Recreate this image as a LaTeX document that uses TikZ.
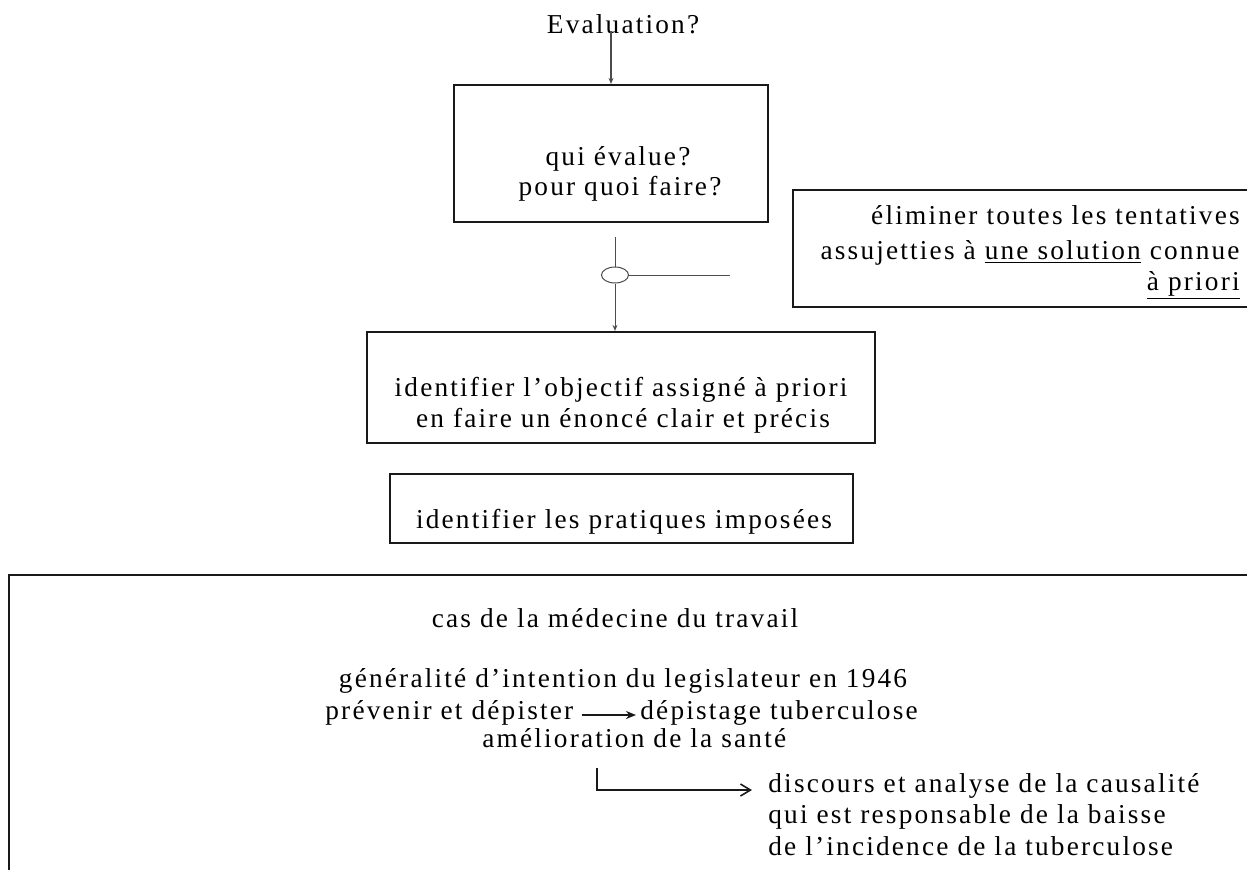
\documentclass[tikz,border=0pt]{standalone}
\usepackage{fontspec}
\setmainfont{Liberation Serif}[LetterSpace=8]
\usetikzlibrary{shapes.geometric,arrows.meta}
\tikzset{
  txt/.style={inner sep=0pt, font=\fontsize{13.65pt}{16pt}\selectfont, text=black},
  boxe/.style={draw=black!90, line width=1.1pt, inner sep=0pt},
  conn/.style={draw=black!70, line width=0.5pt},
  smalltip/.style={-{Stealth[length=3pt,width=2.5pt]}},
}
\begin{document}
\begin{tikzpicture}[x=0.5pt,y=-0.5pt]
\useasboundingbox (0,0) rectangle (1247,869);
\clip (0,0) rectangle (1247,869);
% boxes
\node[boxe, minimum width=157pt, minimum height=68.5pt] (topbox) at (611,153.5) {};
\node[boxe, minimum width=234.5pt, minimum height=58.5pt] (rightbox) at (1027.5,248.5) {};
\node[boxe, minimum width=254pt, minimum height=55.5pt] (midbox) at (621,387.5) {};
\node[boxe, minimum width=231.5pt, minimum height=34.5pt] (smallbox) at (621.5,508.5) {};
\node[boxe, minimum width=626.5pt, minimum height=152.5pt] (bigbox) at (635.5,727.5) {};
% texts
\node[txt, anchor=base] (eval) at (623,33) {Evaluation?};
\node[txt, anchor=base] (q1) at (618,165) {qui évalue?};
\node[txt, anchor=base] (q2) at (620,195) {pour quoi faire?};
\node[txt, anchor=base east] (r1) at (1240,224) {éliminer toutes les tentatives};
\node[txt, anchor=base east] (r2) at (1240,259) {assujetties à \underline{une solution} connue};
\node[txt, anchor=base east] (r3) at (1240,290) {\underline{à priori}};
\node[txt, anchor=base] (m1) at (621,396) {identifier l’objectif assigné à priori};
\node[txt, anchor=base] (m2) at (623,427) {en faire un énoncé clair et précis};
\node[txt, anchor=base] (s1) at (624,528) {identifier les pratiques imposées};
\node[txt, anchor=base] (cas) at (615,627) {cas de la médecine du travail};
\node[txt, anchor=base] (gen) at (623,687) {généralité d’intention du legislateur en 1946};
\node[txt, anchor=base west] (prev) at (325,719) {prévenir et dépister};
\node[txt, anchor=base west] (dep) at (640,719) {dépistage tuberculose};
\node[txt, anchor=base west] (amel) at (482,747) {amélioration de la santé};
\node[txt, anchor=base west] (d1) at (768,792) {discours et analyse de la causalité};
\node[txt, anchor=base west] (d2) at (768,823) {qui est responsable de la baisse};
\node[txt, anchor=base west] (d3) at (768,855) {de l’incidence de la tuberculose};
% junction
\node[conn, ellipse, minimum width=13.5pt, minimum height=8pt, inner sep=0pt] (ell) at (615,275) {};
\coordinate (hend) at (730,275);
\coordinate (lstart) at (597,768);
% connectors
\draw[conn, smalltip, line width=0.7pt] (eval.south -| topbox.north) ++(0,-3) -- (topbox.north);
\draw[conn, shorten <=7pt] (topbox.south -| ell.north) -- (ell.north);
\draw[conn, smalltip] (ell.south) -- (ell.south |- midbox.north);
\draw[conn] (ell.east) -- (hend);
\draw[line width=1pt, black!90, -{Stealth[length=5pt,width=4pt]}] ([xshift=4pt,yshift=2pt]prev.base east) -- ([xshift=-2pt,yshift=2pt]dep.base west);
\draw[line width=0.8pt, black!90, -{Straight Barb[length=5pt,width=6pt]}] (lstart) |- ([xshift=-8pt,yshift=1pt]d1.base west);
\end{tikzpicture}
\end{document}
